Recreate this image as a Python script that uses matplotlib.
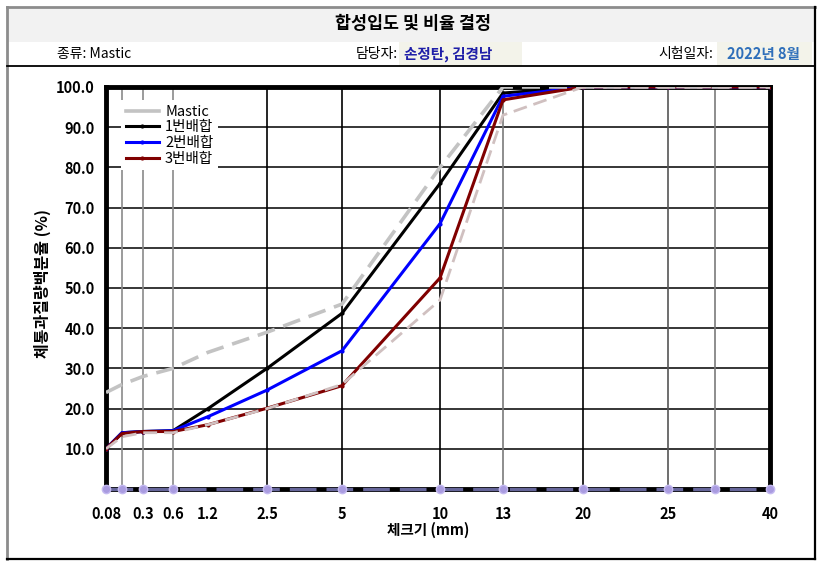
import matplotlib
matplotlib.use("Agg")
import matplotlib.pyplot as plt
from matplotlib.patches import Rectangle
from matplotlib.lines import Line2D
import numpy as np

plt.rcParams['font.family'] = ['Noto Sans CJK KR', 'DejaVu Sans']

# 체 크기 (mm)
sieves = [0.08, 0.15, 0.3, 0.6, 1.2, 2.5, 5, 10, 13, 20, 25, 40]

# Mastic 입도 범위 (상한 / 하한)
mastic_upper = [24, 26, 28, 30, 34, 39, 46, 80, 100, 100, 100, 100]
mastic_lower = [10, 13, 14, 14, 16, 20, 26, 47, 93, 100, 100, 100]

# 배합별 통과율 (%)
mix1 = [10, 14, 14.3, 14.5, 20, 30, 43.7, 76, 98.5, 100, 100, 100]
mix2 = [10, 14, 14.3, 14.5, 18, 24.6, 34.4, 66, 97.7, 100, 100, 100]
mix3 = [10, 13.8, 14.3, 14.3, 16, 20.1, 25.7, 52.5, 96.8, 100, 100, 100]

x_labels = ['0.08', '0.3', '0.6', '1.2', '2.5', '5', '10', '13', '20', '25', '40']
y_ticks = [10, 20, 30, 40, 50, 60, 70, 80, 90, 100]

# 세로 격자선 (체 위치)
grid_sizes = [0.15, 0.3, 0.6, 2.5, 5, 10, 13, 20, 25, 30]
grid_colors = ['#8a8a8a', '#8a8a8a', '#8a8a8a', 'black', 'black', 'black',
               '#7a7a7a', 'black', '#555555', '#7a7a7a']
base_sizes = [0.08, 0.15, 0.3, 0.6, 2.5, 5, 10, 13, 20, 25, 30, 40]

# 가로축 눈금 배치 (엑셀 원본의 비균등 축)
scale_sizes = [0.08, 0.15, 0.3, 0.6, 1.2, 2.5, 5, 10, 13, 20, 25, 30, 40]
scale_pos = [0, 16, 37, 67, 102, 161, 236, 334, 397, 477, 562, 609, 664]


def fwd(d):
    return np.interp(d, scale_sizes, scale_pos)


def inv(p):
    return np.interp(p, scale_pos, scale_sizes)


W, H = 827, 570
fig = plt.figure(figsize=(W / 100, H / 100), dpi=100)

# 배경 (머리글 표)
bg = fig.add_axes([0, 0, 1, 1], zorder=0)
bg.set_xlim(0, W)
bg.set_ylim(H, 0)
bg.axis('off')
bg.add_patch(Rectangle((8, 8), 807, 34, facecolor='#f2f2f2', edgecolor='none'))
bg.add_patch(Rectangle((399, 42), 123, 24, facecolor='#f3f3ea', edgecolor='none'))
bg.add_patch(Rectangle((717, 42), 95, 24, facecolor='#f3f3ea', edgecolor='none'))
bg.plot([7, 7], [7, 559], color='#8c8c8c', lw=2)
bg.plot([7, 815], [7, 7], color='#8c8c8c', lw=2)
bg.plot([815, 815], [7, 559], color='black', lw=1.6)
bg.plot([7, 815], [559, 559], color='black', lw=1.6)
bg.plot([7, 815], [66, 66], color='black', lw=1.3)

bg.text(413, 24, '합성입도 및 비율 결정', ha='center', va='center',
        fontsize=12.5, fontweight='bold')
bg.text(57, 54, '종류: Mastic', ha='left', va='center', fontsize=10)
bg.text(398, 54, '담당자:', ha='right', va='center', fontsize=10)
bg.text(404, 54, '손정탄, 김경남', ha='left', va='center', fontsize=10.5,
        color='#1f1fa8', fontweight='bold')
bg.text(713, 54, '시험일자:', ha='right', va='center', fontsize=10)
bg.text(727, 54, '2022년 8월', ha='left', va='center', fontsize=10.5,
        color='#2f6fba', fontweight='bold')

bg.text(42, 283, '체통과질량백분율 (%)', rotation=90, ha='center', va='center',
        fontsize=11.5, fontweight='bold')
bg.text(428, 530, '체크기 (mm)', ha='center', va='center',
        fontsize=10.5, fontweight='bold')

# 본 그래프
ax = fig.add_axes([106 / W, 1 - 489 / H, 664 / W, 402 / H], zorder=1)
ax.set_xscale('function', functions=(fwd, inv))
ax.set_xlim(0.08, 40)
ax.set_ylim(0, 100)

for yv in y_ticks[:-1]:
    ax.axhline(yv, color='black', lw=1.1, zorder=1)
for s, c in zip(grid_sizes, grid_colors):
    ax.axvline(s, color=c, lw=1.2, zorder=1)

ax.plot(sieves, mix1, color='black', lw=2.2, marker='o', ms=2, zorder=3)
ax.plot(sieves, mix2, color='#0000ff', lw=2.2, marker='o', ms=2, zorder=3)
ax.plot(sieves, mix3, color='#800000', lw=2.2, marker='o', ms=2, zorder=3)
ax.plot(sieves, mastic_upper, color='#c3c3c3', lw=2.6, ls=(0, (5, 2.5)), zorder=4)
ax.plot(sieves, mastic_lower, color='#d0c0c0', lw=2.0, ls=(0, (5, 2.5)), zorder=4)

# 하단 기준선 및 표식
ax.plot(base_sizes, [0] * len(base_sizes), color='#66669a', lw=2.4,
        ls=(0, (8, 3)), marker='o', ms=6, mfc='#a99be0', mec='#c4baf0',
        zorder=6, clip_on=False)

for side in ['left', 'right', 'top', 'bottom']:
    ax.spines[side].set_linewidth(3.5)
    ax.spines[side].set_color('black')

ax.set_xticks([float(v) for v in x_labels])
ax.set_xticklabels(x_labels, fontsize=10.5, fontweight='bold')
ax.set_yticks(y_ticks)
ax.set_yticklabels([f'{v:.1f}' for v in y_ticks], fontsize=10.5, fontweight='bold')
ax.tick_params(axis='x', length=0, pad=12)
ax.tick_params(axis='y', length=0, pad=8)
ax.minorticks_off()

handles = [
    Line2D([], [], color='#c3c3c3', lw=2.6),
    Line2D([], [], color='black', lw=2.2, marker='o', ms=2),
    Line2D([], [], color='#0000ff', lw=2.2, marker='o', ms=2),
    Line2D([], [], color='#800000', lw=2.2, marker='o', ms=2),
]
leg = ax.legend(handles, ['Mastic', '1번배합', '2번배합', '3번배합'],
                loc='upper left', bbox_to_anchor=(0.012, 0.985), fontsize=10.5,
                frameon=True, facecolor='white', edgecolor='none', framealpha=1,
                fancybox=False, handlelength=2.3, labelspacing=0.12,
                borderpad=0.3, handletextpad=0.4)
leg.set_zorder(5)

fig.savefig('out.png', dpi=100)
